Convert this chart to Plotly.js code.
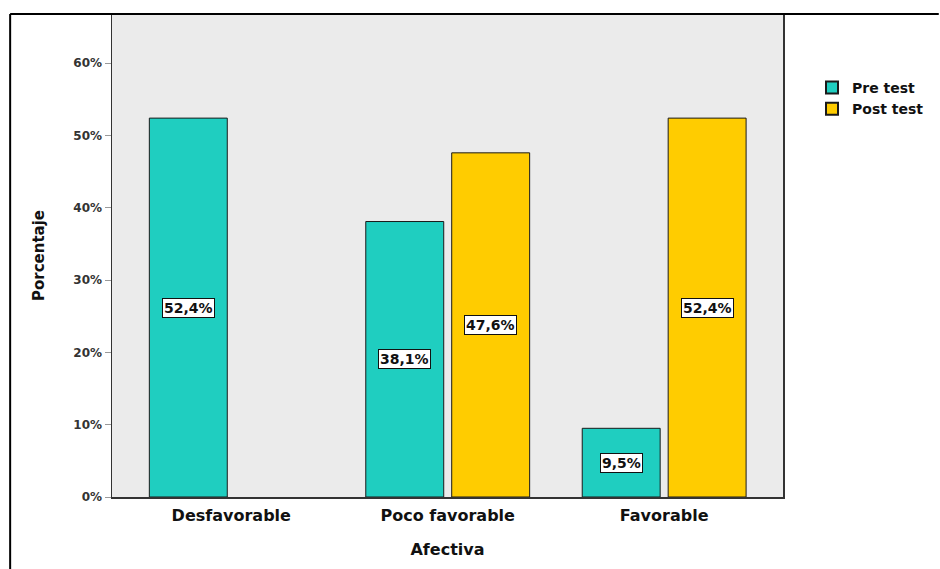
<!DOCTYPE html>
<html>
<head>
<meta charset="utf-8">
<script src="https://cdn.plot.ly/plotly-3.0.1.min.js"></script>
<style>html,body{margin:0;padding:0;background:#fff;}#chart{width:940px;height:569px;}</style>
</head>
<body>
<div id="chart"></div>
<script>
const categories = ["Desfavorable", "Poco favorable", "Favorable"];
const seriesNames = ["Pre test", "Post test"];
const preTest = [52.4, 38.1, 9.5];
const postTest = [null, 47.6, 52.4];
const yTicks = [0, 10, 20, 30, 40, 50, 60];

const colors = ["#1fcec0", "#ffcc00"];
const FONT = "DejaVu Sans, Verdana, sans-serif";
const W = 940, H = 569;
const margin = {l: 112, r: 156, t: 14, b: 72};
const pw = W - margin.l - margin.r, ph = H - margin.t - margin.b;

const seriesVals = [preTest, postTest];
const traces = seriesVals.map((vals, i) => ({
  type: "bar",
  name: seriesNames[i],
  x: categories,
  y: vals,
  marker: {color: colors[i], line: {color: "#1a1a1a", width: 1}},
  hoverinfo: "none"
}));

const fmt = v => v.toFixed(1).replace(".", ",") + "%";
const annotations = [];
seriesVals.forEach((vals, i) => {
  vals.forEach((v, j) => {
    if (v === null) return;
    annotations.push({
      x: categories[j], y: v / 2, xref: "x", yref: "y",
      xshift: i === 0 ? -43 : 43,
      text: fmt(v), showarrow: false,
      font: {family: FONT, size: 14, color: "#111", weight: "bold"},
      bgcolor: "#ffffff", bordercolor: "#111", borderwidth: 1, borderpad: 1
    });
  });
});

const px2x = p => (p - margin.l) / pw;
const px2y = p => (H - margin.b - p) / ph;

const layout = {
  width: W, height: H,
  margin: margin,
  paper_bgcolor: "#ffffff",
  plot_bgcolor: "#ebebeb",
  barmode: "group",
  bargap: 0.206,
  bargroupgap: 0.093,
  font: {family: FONT, color: "#111"},
  xaxis: {
    type: "category",
    range: [-0.551, 2.549],
    showline: true, linecolor: "#333", linewidth: 1.5, mirror: true,
    ticks: "", showgrid: false, ticklabelstandoff: 3,
    tickfont: {family: FONT, size: 16, weight: "bold", color: "#111"},
    title: {text: "Afectiva", font: {family: FONT, size: 16, weight: "bold", color: "#111"}, standoff: 20}
  },
  yaxis: {
    range: [0, 66.8],
    tickvals: yTicks,
    ticktext: yTicks.map(t => t + "%"),
    showline: true, linecolor: "#333", linewidth: 1.5, mirror: true,
    ticks: "outside", ticklen: 6, tickcolor: "#999",
    showgrid: false, zeroline: false,
    tickfont: {family: FONT, size: 12, weight: "bold", color: "#333"},
    title: {text: "Porcentaje", font: {family: FONT, size: 15, weight: "bold", color: "#111"}, standoff: 25}
  },
  legend: {
    x: px2x(812), y: px2y(72), xanchor: "left", yanchor: "top",
    font: {family: FONT, size: 14, weight: "bold", color: "#111"},
    bgcolor: "rgba(0,0,0,0)", tracegroupgap: 0, itemsizing: "constant"
  },
  annotations: annotations,
  shapes: [
    {type: "line", xref: "paper", yref: "paper", x0: px2x(10), x1: px2x(940), y0: px2y(14), y1: px2y(14), line: {color: "#000", width: 2}},
    {type: "line", xref: "paper", yref: "paper", x0: px2x(10), x1: px2x(10), y0: px2y(14), y1: px2y(570), line: {color: "#000", width: 2}}
  ]
};

Plotly.newPlot("chart", traces, layout, {displayModeBar: false, staticPlot: true});
</script>
</body>
</html>
